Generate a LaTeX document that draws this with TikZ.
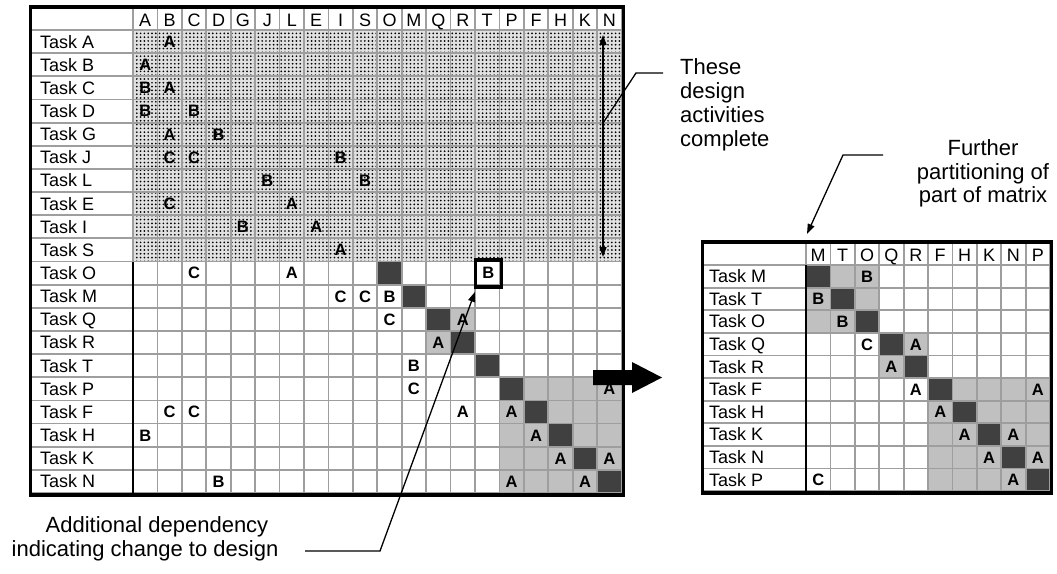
\documentclass[tikz,border=0pt]{standalone}
\usepackage{fontspec}
\setmainfont{Liberation Sans}
\usetikzlibrary{arrows.meta,patterns.meta}
\definecolor{cellDark}{RGB}{64,64,64}
\definecolor{cellLight}{RGB}{192,192,192}
\definecolor{gridGray}{RGB}{158,158,158}
\definecolor{doneBg}{RGB}{225,225,225}

% left matrix: cells start at x=133, y=30; 24.43 x 23.15 each
\newcommand\lfill[3]{\fill[#3] ({133+(#1-1)*24.43},{30+(#2-1)*23.15}) rectangle ++(24.43,23.15);}
\newcommand\ldep[3]{\node[dep] (L#2-#1) at ({133+(#1-0.5)*24.43},{30+(#2-0.5)*23.15+5.9}) {#3};}
% right matrix: cells start at x=806, y=265; 24.4 x 22.6 each
\newcommand\rfill[3]{\fill[#3] ({806+(#1-1)*24.4},{265+(#2-1)*22.6}) rectangle ++(24.4,22.6);}
\newcommand\rdep[3]{\node[dep] (R#2-#1) at ({806+(#1-0.5)*24.4},{265+(#2-0.5)*22.6+5.9}) {#3};}

\begin{document}
\begin{tikzpicture}[x=1pt,y=-1pt,
  lbl/.style={font=\fontsize{18}{20}\selectfont,anchor=base west,inner sep=0pt},
  hdr/.style={font=\fontsize{18}{20}\selectfont,anchor=base,inner sep=0pt},
  dep/.style={font=\bfseries\fontsize{16.5}{18}\selectfont,anchor=base,inner sep=0pt},
  note/.style={font=\fontsize{22}{24}\selectfont,inner sep=0pt,anchor=base},
  grid/.style={draw=gridGray,line width=1.8pt},
  frame/.style={draw=black,line width=3.5pt},
  leader/.style={draw=black,line width=1.3pt},
]
\useasboundingbox (0,0) rectangle (1057,573);

% ---------------- left matrix ----------------
% completed block (rows A..S)
\fill[doneBg] (133,30) rectangle ({133+20*24.43},{30+10*23.15});
% clustered blocks
\lfill{14}{13}{cellLight}
\lfill{13}{14}{cellLight}
\fill[cellLight] ({133+15*24.43},{30+15*23.15}) rectangle ({133+20*24.43},{30+20*23.15});
\foreach \k in {11,...,20} {\lfill{\k}{\k}{cellDark}}

% dependencies inside the completed block
\ldep{2}{1}{A}
\ldep{1}{2}{A}
\ldep{1}{3}{B}\ldep{2}{3}{A}
\ldep{1}{4}{B}\ldep{3}{4}{B}
\ldep{2}{5}{A}\ldep{4}{5}{B}
\ldep{2}{6}{C}\ldep{3}{6}{C}\ldep{9}{6}{B}
\ldep{6}{7}{B}\ldep{10}{7}{B}
\ldep{2}{8}{C}\ldep{7}{8}{A}
\ldep{5}{9}{B}\ldep{8}{9}{A}
\ldep{9}{10}{A}
\fill[pattern={Dots[distance=3.8pt,radius=0.95pt]},pattern color=black]
  (133,30) rectangle ({133+20*24.43},{30+10*23.15});

% grid
\foreach \k in {0,...,20} {
  \draw[grid] ({133+\k*24.43},8) -- ({133+\k*24.43},493);
  \draw[grid] (31,{30+\k*23.15}) -- (622,{30+\k*23.15});
}
\draw[line width=2pt] (133,{30+10*23.15}) -- (133,493);

% headings
\foreach \t [count=\i] in {A,B,C,D,G,J,L,E,I,S,O,M,Q,R,T,P,F,H,K,N} {
  \node[hdr] (LH\i) at ({133+(\i-0.5)*24.43},26.5) {\t};
  \node[lbl] (LT\i) at (40,{30+(\i-0.5)*23.15+6.45}) {Task \t};
}

% dependencies of the remaining tasks
\ldep{3}{11}{C}\ldep{7}{11}{A}
\ldep{9}{12}{C}\ldep{10}{12}{C}\ldep{11}{12}{B}
\ldep{11}{13}{C}\ldep{14}{13}{A}
\ldep{13}{14}{A}
\ldep{12}{15}{B}
\ldep{12}{16}{C}\ldep{20}{16}{A}
\ldep{2}{17}{C}\ldep{3}{17}{C}\ldep{14}{17}{A}\ldep{16}{17}{A}
\ldep{1}{18}{B}\ldep{17}{18}{A}
\ldep{18}{19}{A}\ldep{20}{19}{A}
\ldep{4}{20}{B}\ldep{16}{20}{A}\ldep{19}{20}{A}
% the new dependency, boxed
\node[dep] (newB) at ({133+14.5*24.43+1},{30+10.5*23.15+5.9}) {B};
\node[draw=black,line width=3.5pt,minimum width=26pt,minimum height=27pt,inner sep=0pt]
  (boxB) at ({133+14.5*24.43+1.5},{30+10.5*23.15+0.5}) {};

\draw[frame] (30.5,6.8) rectangle (623.5,495);

% completed-range marker
\coordinate (rngTop) at (603,35);
\coordinate (rngBot) at (603,257);
\draw[leader,{Triangle[length=10pt,width=7pt]}-{Triangle[length=10pt,width=7pt]}] (rngTop) -- (rngBot);

% ---------------- right matrix ----------------
\rfill{2}{1}{cellLight}\rfill{3}{1}{cellLight}
\rfill{1}{2}{cellLight}\rfill{3}{2}{cellLight}
\rfill{1}{3}{cellLight}\rfill{2}{3}{cellLight}
\rfill{5}{4}{cellLight}\rfill{4}{5}{cellLight}
\fill[cellLight] ({806+5*24.4},{265+5*22.6}) rectangle ({806+10*24.4},{265+10*22.6});
\foreach \k in {1,...,10} {\rfill{\k}{\k}{cellDark}}

\foreach \k in {0,...,10} {
  \draw[grid] ({806+\k*24.4},244) -- ({806+\k*24.4},492);
  \draw[grid] (704,{265+\k*22.6}) -- (1051,{265+\k*22.6});
}
\draw[line width=2pt] (806,265) -- (806,492);

\foreach \t [count=\i] in {M,T,O,Q,R,F,H,K,N,P} {
  \node[hdr] (RH\i) at ({806+(\i-0.5)*24.4},261.5) {\t};
  \node[lbl] (RT\i) at (709,{265+(\i-0.5)*22.6+6.45}) {Task \t};
}

\rdep{3}{1}{B}
\rdep{1}{2}{B}
\rdep{2}{3}{B}
\rdep{3}{4}{C}\rdep{5}{4}{A}
\rdep{4}{5}{A}
\rdep{5}{6}{A}\rdep{10}{6}{A}
\rdep{6}{7}{A}
\rdep{7}{8}{A}\rdep{9}{8}{A}
\rdep{8}{9}{A}\rdep{10}{9}{A}
\rdep{1}{10}{C}\rdep{9}{10}{A}

\draw[frame] (702.5,242) rectangle (1051.5,493);

% block arrow between the matrices
\fill[black] (593,370) -- (632,370) -- (632,362) -- (662,377.5) -- (632,393) -- (632,385) -- (593,385) -- cycle;

% ---------------- notes ----------------
\node[note] (doneA) at (680,74) [anchor=base west] {These};
\node[note] (doneB) at (680,98) [anchor=base west] {design};
\node[note] (doneC) at (680,122) [anchor=base west] {activities};
\node[note] (doneD) at (680,146) [anchor=base west] {complete};
\coordinate (doneKnee) at (636,73);
\coordinate (doneEnd) at (663,73);
\coordinate (doneStart) at (603,123);
\draw[leader] (doneStart) -- (doneKnee) -- (doneEnd);

\node[note] (partA) at (983,155) {Further};
\node[note] (partB) at (983,179) {partitioning of};
\node[note] (partC) at (983,202.5) {part of matrix};
\coordinate (partKnee) at (843,155);
\coordinate (partEnd) at (883,155);
\draw[leader,-{Triangle[length=10pt,width=7pt]}] (partEnd) -- (partKnee) -- (807,234);

\node[note] (addA) at (157,532) {Additional dependency};
\node[note] (addB) at (145,556) {indicating change to design};
\coordinate (addKnee) at (380,551);
\coordinate (addEnd) at (305,551);
\draw[leader,-{Triangle[length=10pt,width=7pt]}] (addEnd) -- (addKnee) -- ([shift={(1pt,-3pt)}]boxB.south west);
\end{tikzpicture}
\end{document}
